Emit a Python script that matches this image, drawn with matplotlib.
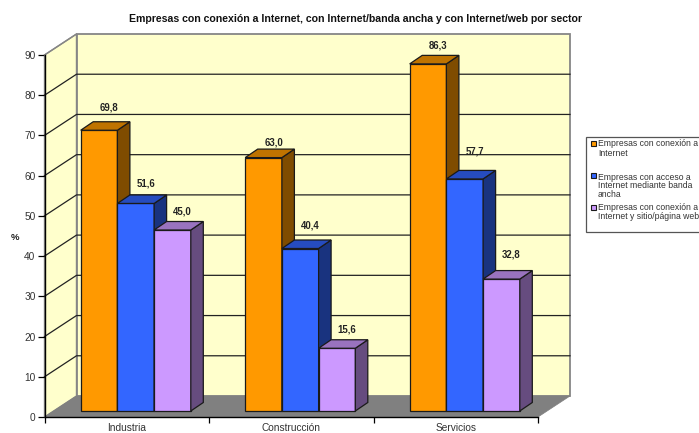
import matplotlib
matplotlib.use('Agg')
import matplotlib.pyplot as plt
from matplotlib.patches import Rectangle

plt.rcParams['font.family'] = ['Liberation Sans', 'DejaVu Sans']

# data
sectors = ['Industria', 'Construcción', 'Servicios']
conexion = [69.8, 63.0, 86.3]
banda_ancha = [51.6, 40.4, 57.7]
sitio_web = [45.0, 15.6, 32.8]
value_labels = [['69,8', '63,0', '86,3'], ['51,6', '40,4', '57,7'], ['45,0', '15,6', '32,8']]
title = 'Empresas con conexión a Internet, con Internet/banda ancha y con Internet/web por sector'
legend_lines = [['Empresas con conexión a', 'Internet'],
                ['Empresas con acceso a', 'Internet mediante banda', 'ancha'],
                ['Empresas con conexión a', 'Internet y sitio/página web']]

# colours: front, side, top
orange = ['#FF9900', '#7F4C00', '#BF7300']
blue = ['#3366FF', '#19337F', '#264CBF']
lilac = ['#CC99FF', '#664C7F', '#9973BF']

W, H = 699, 433
fig = plt.figure(figsize=(W / 100, H / 100), dpi=100)

# front plane of the 3d box is the axes
left, right, bottom, top = 44.5, 538, 417, 55
ax = fig.add_axes([left / W, 1 - bottom / H, (right - left) / W, (bottom - top) / H])
ax.set_xlim(0, 3)
ax.set_ylim(0, 90)
ax.patch.set_visible(False)

px_x = 3 / (right - left)
px_y = 90 / (bottom - top)
# depth of the whole box and of one bar
box_dx, box_dy = 32 * px_x, 21 * px_y
bar_dx, bar_dy = 12.5 * px_x, 8.5 * px_y
# where the front of the bars sits on the floor
off_x, off_y = 9 * px_x, 6 * px_y
bar_w = 36.7 * px_x

# walls and floor
ax.fill([0, box_dx, box_dx, 0], [0, box_dy, 90 + box_dy, 90], fc='#FFFFCC', ec='#868686', lw=1, clip_on=False, zorder=1)
ax.fill([box_dx, 3 + box_dx, 3 + box_dx, box_dx], [box_dy, box_dy, 90 + box_dy, 90 + box_dy],
        fc='#FFFFCC', ec='#868686', lw=1.3, clip_on=False, zorder=1)
ax.fill([0, 3, 3 + box_dx, box_dx], [0, 0, box_dy, box_dy], fc='#808080', ec='#808080', lw=0.5, clip_on=False, zorder=2)

# gridlines, side wall then back wall
for v in range(10, 90, 10):
    ax.plot([0, box_dx, 3 + box_dx], [v, v + box_dy, v + box_dy], color='#222222', lw=0.9, clip_on=False, zorder=2)
ax.plot([0, box_dx], [90, 90 + box_dy], color='#868686', lw=1, clip_on=False, zorder=2)

series = [conexion, banda_ancha, sitio_web]
colors = [orange, blue, lilac]
# how far each value label sits above its bar, pixels
label_lift = [[23, 15, 18], [20, 23, 27], [19, 19, 25]]

for s, (vals, col) in enumerate(zip(series, colors)):
    for c, v in enumerate(vals):
        x0 = c + 0.5 + off_x + (s - 1.5) * bar_w
        x1 = x0 + bar_w
        z = 5 + s + c * 5
        ax.bar(x0, v, bar_w, bottom=off_y, align='edge', color=col[0], ec='#1A1A1A', lw=0.9, clip_on=False, zorder=z)
        ax.fill([x1, x1 + bar_dx, x1 + bar_dx, x1], [off_y, off_y + bar_dy, off_y + v + bar_dy, off_y + v],
                fc=col[1], ec='#1A1A1A', lw=0.9, clip_on=False, zorder=z)
        ax.fill([x0, x1, x1 + bar_dx, x0 + bar_dx], [off_y + v, off_y + v, off_y + v + bar_dy, off_y + v + bar_dy],
                fc=col[2], ec='#1A1A1A', lw=0.9, clip_on=False, zorder=z)
        ax.text(x0 + bar_w / 2 + 10 * px_x, off_y + v + label_lift[s][c] * px_y, value_labels[s][c],
                ha='center', va='center', fontsize=6.9, fontweight='bold', color='#222222', zorder=30)

# axes lines and ticks
for sp in ['top', 'right']:
    ax.spines[sp].set_visible(False)
for sp in ['left', 'bottom']:
    ax.spines[sp].set_linewidth(1)
    ax.spines[sp].set_zorder(3)
ax.set_yticks(range(0, 100, 10))
ax.tick_params(axis='y', length=5, width=0.9, pad=1.5, labelsize=7.3, labelcolor='#333333')
ax.set_xticks([0, 1, 2, 3])
ax.set_xticklabels([])
ax.tick_params(axis='x', length=4.5, width=0.9)
ax.set_xticks([0.5, 1.5, 2.5], minor=True)
ax.set_xticklabels(sectors, minor=True, fontsize=7.3, color='#333333')
ax.tick_params(axis='x', which='minor', length=0, pad=4.5)

fig.text(15 / W, 1 - 237 / H, '%', ha='center', va='center', fontsize=6.8, fontweight='bold', color='#222222')
fig.text(355.5 / W, 1 - 18.5 / H, title, ha='center', va='center', fontsize=7.55, fontweight='bold', color='#111111')

# legend box runs off the right edge like the original
fig.add_artist(Rectangle((586 / W, 1 - 232 / H), 130 / W, 95 / H, transform=fig.transFigure,
                         fc='white', ec='#555555', lw=0.9))
swatch_y = [143.5, 175.5, 207]
line_y = [[144, 153], [177, 186, 194.5], [207, 216]]
for col, sy, lines, ys in zip(colors, swatch_y, legend_lines, line_y):
    fig.add_artist(Rectangle((590.5 / W, 1 - (sy + 2.5) / H), 5 / W, 5 / H, transform=fig.transFigure,
                             fc=col[0], ec='#1A1A1A', lw=0.8))
    for line, y in zip(lines, ys):
        fig.text(598 / W, 1 - y / H, line, ha='left', va='center', fontsize=6.2, color='#333333')

fig.savefig('out.png', dpi=100)
